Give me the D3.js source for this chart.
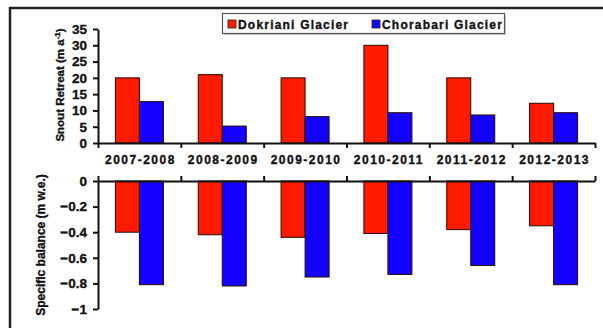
<!DOCTYPE html>
<html>
<head>
<meta charset="utf-8">
<script src="https://cdn.jsdelivr.net/npm/d3@7"></script>
<style>
  html, body { margin: 0; padding: 0; background: #fff; }
  svg { display: block; font-family: Arial, "Liberation Sans", sans-serif; }
  text { stroke: #111; stroke-width: 0.35px; paint-order: stroke; }
</style>
</head>
<body>
<svg id="chart" width="603" height="328"></svg>
<script>
// Hydrological years
const years = ["2007-2008", "2008-2009", "2009-2010", "2010-2011", "2011-2012", "2012-2013"];
const glaciers = ["Dokriani Glacier", "Chorabari Glacier"];

// Snout retreat (m a^-1)
const dokrianiRetreat = [20, 21, 20, 30, 20, 12.2];
const chorabariRetreat = [12.7, 5.2, 8.1, 9.3, 8.6, 9.3];

// Specific mass balance (m w.e.)
const dokrianiBalance = [-0.40, -0.42, -0.44, -0.41, -0.38, -0.35];
const chorabariBalance = [-0.81, -0.82, -0.75, -0.73, -0.66, -0.81];

const retreatTicks = [0, 5, 10, 15, 20, 25, 30, 35];
const balanceTicks = [0, -0.2, -0.4, -0.6, -0.8, -1];

const colors = { "Dokriani Glacier": "#ff1a00", "Chorabari Glacier": "#1400ff" };

const svg = d3.select("#chart");
const ink = "#111";

// Frame (top and left edges)
svg.append("path")
  .attr("d", "M10,328V8H603")
  .attr("fill", "none").attr("stroke", "#222").attr("stroke-width", 2.5);

// Shared category scale
const x0 = d3.scaleBand().domain(years).range([98, 595]).padding(0);
const groupW = 48;
const x1 = d3.scaleBand().domain(glaciers).range([0, groupW]).padding(0);
const groupOff = (x0.bandwidth() - groupW) / 2;

const yTop = d3.scaleLinear().domain([0, 35]).range([143, 29]);
const yBot = d3.scaleLinear().domain([-1, 0]).range([309, 181]);

const retreatRows = years.map((y, i) => ({ year: y, vals: [dokrianiRetreat[i], chorabariRetreat[i]] }));
const balanceRows = years.map((y, i) => ({ year: y, vals: [dokrianiBalance[i], chorabariBalance[i]] }));

function drawBars(rows, yScale) {
  const g = svg.append("g");
  rows.forEach(r => {
    r.vals.forEach((v, j) => {
      const name = glaciers[j];
      const ya = yScale(0), yb = yScale(v);
      g.append("rect")
        .attr("x", x0(r.year) + groupOff + x1(name))
        .attr("y", Math.min(ya, yb))
        .attr("width", x1.bandwidth())
        .attr("height", Math.abs(yb - ya))
        .attr("fill", colors[name])
        .attr("stroke", "#2a0800").attr("stroke-width", 1);
    });
  });
}

drawBars(retreatRows, yTop);
drawBars(balanceRows, yBot);

function styleAxis(g, fontSize) {
  g.selectAll(".domain").attr("stroke", ink).attr("stroke-width", 2);
  g.selectAll(".tick line").attr("stroke", ink).attr("stroke-width", 2);
  g.selectAll(".tick text")
    .attr("fill", ink)
    .style("font-size", fontSize + "px")
    .style("font-weight", "bold");
}

// Top y-axis
const ayTop = svg.append("g").attr("transform", "translate(98,0)")
  .call(d3.axisLeft(yTop).tickValues(retreatTicks).tickSize(5).tickPadding(6).tickSizeOuter(0));
styleAxis(ayTop, 13.5);

// Bottom y-axis
const ayBot = svg.append("g").attr("transform", "translate(98,0)")
  .call(d3.axisLeft(yBot).tickValues(balanceTicks).tickSize(5).tickPadding(6).tickSizeOuter(0)
    .tickFormat(d => d === 0 ? "0" : d3.format("")(+d.toFixed(1))));
styleAxis(ayBot, 13.5);

// Category boundaries for tick marks
const bounds = years.map(y => x0(y)).concat([x0.range()[1]]);
const xb = d3.scaleLinear().domain([98, 595]).range([98, 595]);

// Top x-axis: ticks pointing down
const axTop = svg.append("g").attr("transform", `translate(0,${yTop(0)})`)
  .call(d3.axisBottom(xb).tickValues(bounds).tickSize(5).tickSizeOuter(0).tickFormat(""));
styleAxis(axTop, 12);

// Bottom zero line: ticks pointing up
const axBot = svg.append("g").attr("transform", `translate(0,${yBot(0)})`)
  .call(d3.axisTop(xb).tickValues(bounds).tickSize(5).tickSizeOuter(0).tickFormat(""));
styleAxis(axBot, 12);

// Year labels between the panels
svg.append("g").selectAll("text").data(years).join("text")
  .attr("x", d => x0(d) + x0.bandwidth() / 2 + 1)
  .attr("y", 163.5)
  .attr("text-anchor", "middle")
  .attr("fill", ink)
  .style("font-size", "12px").style("font-weight", "bold").style("letter-spacing", "1.5px")
  .text(d => d);

// Axis titles
const tTop = svg.append("text")
  .attr("transform", "translate(64,85) rotate(-90)")
  .attr("text-anchor", "middle").attr("fill", ink)
  .style("font-size", "11.5px").style("font-weight", "bold");
tTop.append("tspan").text("Snout Retreat (m a");
tTop.append("tspan").attr("dy", -4).style("font-size", "8px").text("-1");
tTop.append("tspan").attr("dy", 4).text(")");

svg.append("text")
  .attr("transform", "translate(45,245) rotate(-90)")
  .attr("text-anchor", "middle").attr("fill", ink)
  .style("font-size", "12px").style("font-weight", "bold")
  .text("Specific balance (m w.e.)");

// Legend
const leg = svg.append("g");
leg.append("rect").attr("x", 224).attr("y", 15).attr("width", 282).attr("height", 20)
  .attr("fill", "#ccc");
leg.append("rect").attr("x", 222.5).attr("y", 13.5).attr("width", 282).attr("height", 20)
  .attr("fill", "#fff").attr("stroke", "#555").attr("stroke-width", 1.2);
const legX = d3.scalePoint().domain(glaciers).range([228, 372]);
glaciers.forEach(name => {
  const gx = legX(name);
  leg.append("rect").attr("x", gx).attr("y", 20).attr("width", 8).attr("height", 8)
    .attr("fill", colors[name]).attr("stroke", "#222").attr("stroke-width", 0.8);
  leg.append("text").attr("x", gx + 10).attr("y", 28.5).attr("fill", ink)
    .style("font-size", "12px").style("font-weight", "bold").style("letter-spacing", "1.2px")
    .text(name);
});
</script>
</body>
</html>
